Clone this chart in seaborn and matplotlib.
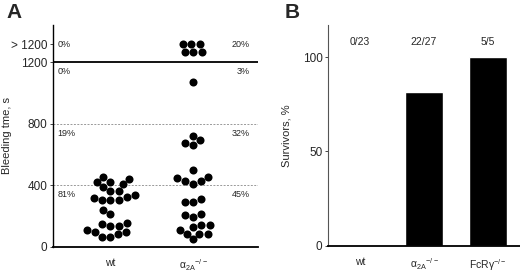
import matplotlib
matplotlib.use("Agg")
import matplotlib.pyplot as plt
import seaborn as sns
import pandas as pd

sns.set_theme(style="white")
plt.rcParams['font.family'] = ['Liberation Sans', 'DejaVu Sans']
plt.rcParams['mathtext.default'] = 'regular'

# Panel A: bleeding times (s); >1200 shown above the break
wt_times = [450, 440, 420, 420, 405, 385, 360, 360, 335, 320, 317, 300, 300, 300,
            240, 215, 155, 145, 135, 135, 110, 95, 95, 80, 65, 65]
a2a_times = [1317, 1317, 1317, 1266, 1266, 1266, 1075,
             718, 691, 676, 659, 498, 455, 445, 428, 424, 410,
             309, 288, 288, 214, 203, 193, 141, 141, 130, 109, 84, 84, 82, 46]
a_groups = ['wt', r'$\alpha_{2A}{}^{-/-}$']
a_pct_left = ['0%', '0%', '19%', '81%']
a_pct_right = ['20%', '3%', '32%', '45%']
a_pct_y = [1317, 1140, 737, 340]
a_yticks = [0, 400, 800, 1200, 1317]
a_yticklabels = ['0', '400', '800', '1200', '> 1200']

# Panel B: survivors
b_groups = ['wt', r'$\alpha_{2A}{}^{-/-}$', r'FcR$\gamma^{-/-}$']
b_survival = [0, 81.5, 100]
b_counts = ['0/23', '22/27', '5/5']

df_a = pd.DataFrame({
    'group': [a_groups[0]] * len(wt_times) + [a_groups[1]] * len(a2a_times),
    'time': wt_times + a2a_times,
})
df_b = pd.DataFrame({'group': b_groups, 'survival': b_survival})

fig = plt.figure(figsize=(5.2, 2.73), dpi=100)
ax1 = fig.add_axes([0.102, 0.097, 0.394, 0.811])
ax2 = fig.add_axes([0.631, 0.100, 0.369, 0.808])

# --- A ---
ax1.axhline(1200, color='black', lw=1.3, zorder=1)
for yv in [400, 800]:
    ax1.axhline(yv, color='#999999', lw=0.7, ls=(0, (2, 1.5)), zorder=1)
sns.swarmplot(data=df_a, x='group', y='time', order=a_groups, color='black',
              size=5.8, ax=ax1, zorder=3)
ax1.set_xlim(-0.69, 1.78)
ax1.set_ylim(0, 1443)
ax1.set_yticks(a_yticks)
ax1.set_yticklabels(a_yticklabels, fontsize=8.5)
ax1.yaxis.get_major_ticks()[4].tick1line.set_visible(False)
ax1.tick_params(axis='y', left=True, length=2.5, width=0.6, pad=1.5)
ax1.tick_params(axis='x', bottom=False, labelsize=7.5, pad=2)
ax1.set_xlabel('')
ax1.set_ylabel('Bleeding tme, s', fontsize=8)
ax1.yaxis.set_label_coords(-0.2, 0.5)
for side in ['top', 'right']:
    ax1.spines[side].set_visible(False)
ax1.spines['left'].set_color('black')
ax1.spines['left'].set_linewidth(1.0)
ax1.spines['bottom'].set_color('black')
ax1.spines['bottom'].set_linewidth(1.3)
for txt_l, txt_r, yv in zip(a_pct_left, a_pct_right, a_pct_y):
    ax1.text(0.02, yv, txt_l, transform=ax1.get_yaxis_transform(),
             fontsize=6.5, va='center', ha='left')
    ax1.text(0.96, yv, txt_r, transform=ax1.get_yaxis_transform(),
             fontsize=6.5, va='center', ha='right')

# --- B ---
sns.barplot(data=df_b, x='group', y='survival', order=b_groups, color='black',
            width=0.6, saturation=1, ax=ax2)
ax2.set_xlim(-0.5, 2.5)
ax2.set_ylim(0, 117)
ax2.set_yticks([0, 50, 100])
ax2.tick_params(axis='y', left=True, length=2.5, width=0.6, pad=1.5, labelsize=8.5)
ax2.tick_params(axis='x', bottom=False, labelsize=7.5, pad=2)
ax2.set_xlabel('')
ax2.set_ylabel('Survivors, %', fontsize=8)
ax2.yaxis.set_label_coords(-0.19, 0.5)
for side in ['top', 'right']:
    ax2.spines[side].set_visible(False)
ax2.spines['left'].set_color('#555555')
ax2.spines['left'].set_linewidth(0.8)
ax2.spines['bottom'].set_color('black')
ax2.spines['bottom'].set_linewidth(1.3)
for i, c in enumerate(b_counts):
    ax2.text(i, 108, c, fontsize=7.5, ha='center', va='center')

fig.text(0.012, 0.955, 'A', fontsize=15, fontweight='bold', va='center', ha='left')
fig.text(0.548, 0.955, 'B', fontsize=15, fontweight='bold', va='center', ha='left')

fig.savefig('out.png', dpi=100)
